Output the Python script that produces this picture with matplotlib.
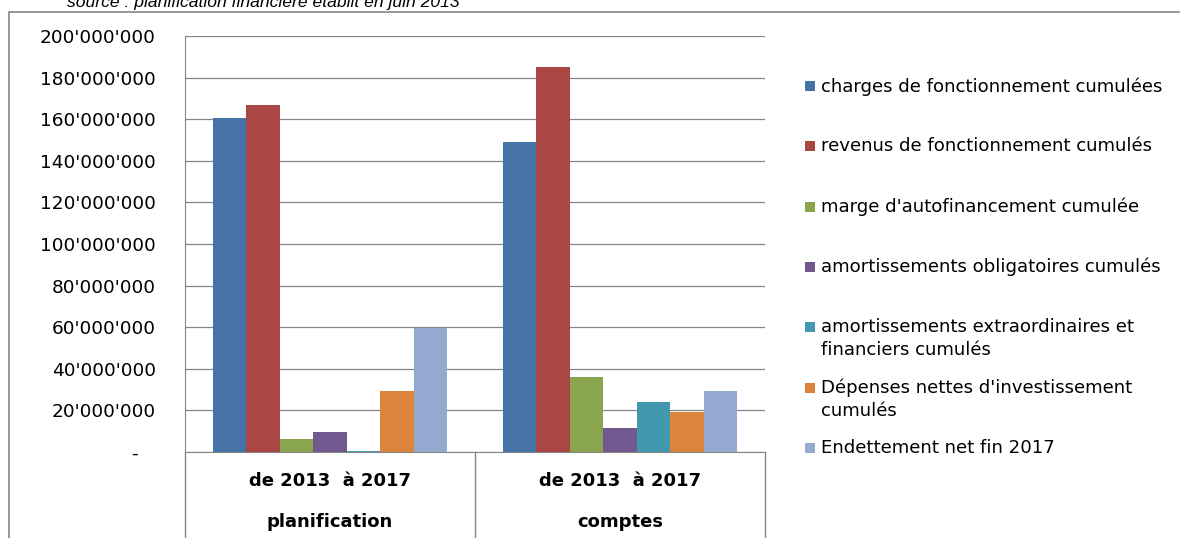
import matplotlib
matplotlib.use("Agg")
import matplotlib.pyplot as plt
from matplotlib.ticker import FuncFormatter
from matplotlib.patches import Rectangle
import matplotlib.transforms as mtransforms
import numpy as np

categories_top = ["de 2013  à 2017", "de 2013  à 2017"]
categories_bottom = ["planification", "comptes"]
series_names = [
    "charges de fonctionnement cumulées",
    "revenus de fonctionnement cumulés",
    "marge d'autofinancement cumulée",
    "amortissements obligatoires cumulés",
    "amortissements extraordinaires et\nfinanciers cumulés",
    "Dépenses nettes d'investissement\ncumulés",
    "Endettement net fin 2017",
]
charges = [160500000, 149000000]
revenus = [166800000, 185000000]
marge = [6100000, 35900000]
amort_oblig = [9800000, 11300000]
amort_extra = [700000, 24200000]
depenses = [29300000, 19300000]
endettement = [59800000, 29300000]
series_values = [charges, revenus, marge, amort_oblig, amort_extra, depenses, endettement]
colors = ["#4572A7", "#AA4643", "#89A54E", "#71588F", "#4198AF", "#DB843D", "#93A9CF"]
source_text = "source : planification financière établit en juin 2013"

W, H = 1180, 538
fig = plt.figure(figsize=(W / 100, H / 100), dpi=100)
FONT = "DejaVu Sans"

# outer chart border
fig.patches.append(Rectangle((9 / W, -0.1), 1.2, (538 - 12) / H + 0.1, transform=fig.transFigure,
                             fill=False, edgecolor="#868686", linewidth=1.2))
fig.text(263 / W, 1 - 6.5 / H, source_text, ha="center", va="baseline", fontsize=12.6,
         style="italic", family="Liberation Sans", color="#000000")

ax = fig.add_axes([185 / W, (538 - 452) / H, 580 / W, 416 / H])
x = np.arange(len(categories_top))
n = len(series_values)
w = 0.81 / n
for i, (vals, name, c) in enumerate(zip(series_values, series_names, colors)):
    ax.bar(x + (i - (n - 1) / 2) * w, vals, width=w, color=c, label=name, zorder=3)

ax.set_xlim(-0.5, 1.5)
ax.set_ylim(0, 200000000)
ax.set_yticks(np.arange(0, 200000001, 20000000))

def fmt(v, pos):
    if v == 0:
        return "-   "
    return f"{int(v):,}".replace(",", "'")

ax.yaxis.set_major_formatter(FuncFormatter(fmt))
ax.grid(axis="y", color="#868686", linewidth=0.9, zorder=0)
ax.tick_params(axis="y", length=0, pad=21, labelsize=13.3, labelcolor="#000000")
for lab in ax.get_yticklabels():
    lab.set_family(FONT)
ax.set_xticks([])
for s in ["top", "right"]:
    ax.spines[s].set_visible(False)
ax.spines["left"].set_color("#868686")
ax.spines["bottom"].set_color("#868686")

# category separators and labels
blend = mtransforms.blended_transform_factory(ax.transData, ax.transAxes)
depth = (538 - 452) / 416 + 0.05
for xs in [-0.5, 0.5, 1.5]:
    ax.plot([xs, xs], [0, -depth], transform=blend, color="#868686", linewidth=1.0, clip_on=False)
for xi, t1, t2 in zip(x, categories_top, categories_bottom):
    ax.text(xi, -(481 - 452) / 416, t1, transform=blend, ha="center", va="center",
            fontsize=13, fontweight="bold", family=FONT)
    ax.text(xi, -(522 - 452) / 416, t2, transform=blend, ha="center", va="center",
            fontsize=13, fontweight="bold", family=FONT)

# legend (Excel-style evenly spaced slots)
y0, step = 86, 60.3
for i, (name, c) in enumerate(zip(series_names, colors)):
    yc = y0 + i * step
    fig.patches.append(Rectangle((805 / W, 1 - (yc + 5) / H), 10 / W, 10 / H,
                                 transform=fig.transFigure, facecolor=c, edgecolor="none"))
    fig.text(821 / W, 1 - (yc - 9) / H, name, ha="left", va="top", fontsize=13.1,
             family=FONT, color="#000000", linespacing=1.35)

fig.savefig("out.png", dpi=100)
